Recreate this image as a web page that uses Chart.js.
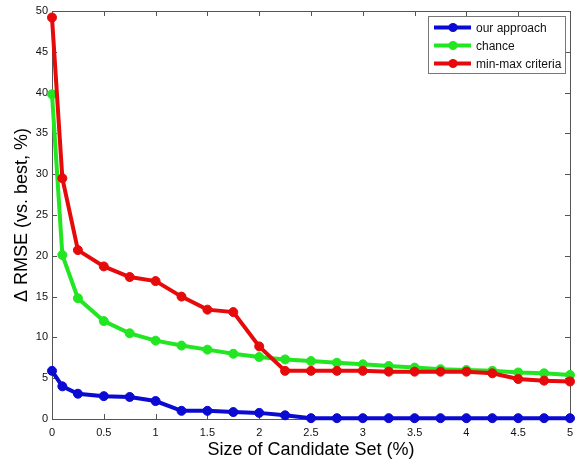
<!DOCTYPE html>
<html>
<head>
<meta charset="utf-8">
<script src="https://cdn.jsdelivr.net/npm/chart.js@4"></script>
<style>
  html, body { margin: 0; padding: 0; background: #fff; }
  #wrap { width: 586px; height: 463px; }
</style>
</head>
<body>
<div id="wrap"><canvas id="chart"></canvas></div>
<script>
// candidate set sizes (%)
const candidateSizes = [0, 0.1, 0.25, 0.5, 0.75, 1, 1.25, 1.5, 1.75, 2, 2.25, 2.5, 2.75, 3, 3.25, 3.5, 3.75, 4, 4.25, 4.5, 4.75, 5];

const seriesNames = ['our approach', 'chance', 'min-max criteria'];
const ourApproach = [5.9, 4.0, 3.1, 2.8, 2.7, 2.2, 1.0, 1.0, 0.85, 0.75, 0.45, 0.1, 0.1, 0.1, 0.1, 0.1, 0.1, 0.1, 0.1, 0.1, 0.1, 0.1];
const chance = [39.8, 20.1, 14.8, 12.0, 10.5, 9.6, 9.0, 8.5, 8.0, 7.6, 7.3, 7.1, 6.9, 6.7, 6.5, 6.3, 6.1, 6.0, 5.9, 5.7, 5.6, 5.4];
const minMax = [49.2, 29.5, 20.7, 18.7, 17.4, 16.9, 15.0, 13.4, 13.1, 8.9, 5.9, 5.9, 5.9, 5.9, 5.8, 5.8, 5.8, 5.8, 5.6, 4.9, 4.7, 4.6];

const colors = ['#0a0ad2', '#22e622', '#e60a0a'];
const fontFamily = '"Liberation Sans", Arial, Helvetica, sans-serif';

const toPoints = (vals) => vals.map((v, i) => ({ x: candidateSizes[i], y: v }));

// box around the axes with inward ticks on all four sides
const framePlugin = {
  id: 'frame',
  beforeDatasetsDraw(chart) {
    const { ctx, chartArea: a, scales } = chart;
    ctx.save();
    ctx.strokeStyle = '#555';
    ctx.lineWidth = 1;
    ctx.strokeRect(a.left + 0.5, a.top + 0.5, a.right - a.left, a.bottom - a.top);
    ctx.beginPath();
    scales.x.ticks.forEach((t) => {
      const px = Math.round(scales.x.getPixelForValue(t.value)) + 0.5;
      ctx.moveTo(px, a.bottom); ctx.lineTo(px, a.bottom - 5);
      ctx.moveTo(px, a.top); ctx.lineTo(px, a.top + 5);
    });
    scales.y.ticks.forEach((t) => {
      const py = Math.round(scales.y.getPixelForValue(t.value)) + 0.5;
      ctx.moveTo(a.left, py); ctx.lineTo(a.left + 5, py);
      ctx.moveTo(a.right, py); ctx.lineTo(a.right - 5, py);
    });
    ctx.stroke();
    ctx.restore();
  },
  afterDraw(chart) {
    // legend box, top right inside the axes
    const { ctx } = chart;
    const bx = 428.5, by = 16.5, bw = 137, bh = 57;
    ctx.save();
    ctx.fillStyle = '#fff';
    ctx.fillRect(bx, by, bw, bh);
    ctx.strokeStyle = '#777';
    ctx.lineWidth = 1;
    ctx.strokeRect(bx, by, bw, bh);
    chart.data.datasets.forEach((ds, i) => {
      const y = 27.5 + i * 18;
      ctx.strokeStyle = ds.borderColor;
      ctx.lineWidth = 4;
      ctx.beginPath();
      ctx.moveTo(434, y); ctx.lineTo(471, y);
      ctx.stroke();
      ctx.fillStyle = ds.borderColor;
      ctx.beginPath();
      ctx.arc(453, y, 4.5, 0, Math.PI * 2);
      ctx.fill();
      ctx.fillStyle = '#111';
      ctx.font = '12px ' + fontFamily;
      ctx.textBaseline = 'middle';
      ctx.fillText(ds.label, 476, y + 1);
    });
    ctx.restore();
  }
};

const seriesData = [ourApproach, chance, minMax];

new Chart(document.getElementById('chart'), {
  type: 'line',
  data: {
    datasets: seriesData.map((vals, i) => ({
      label: seriesNames[i],
      data: toPoints(vals),
      borderColor: colors[i],
      backgroundColor: colors[i],
      borderWidth: 4,
      pointRadius: 4.5,
      pointBorderWidth: 1,
      pointBackgroundColor: colors[i],
      pointBorderColor: colors[i],
      tension: 0,
      clip: false,
      order: i === 0 ? 2 : (i === 1 ? 1 : 0)
    }))
  },
  options: {
    responsive: true,
    maintainAspectRatio: false,
    animation: false,
    layout: { padding: { left: 0, right: 16, top: 11, bottom: 0 } },
    plugins: {
      legend: { display: false },
      tooltip: { enabled: false }
    },
    scales: {
      x: {
        type: 'linear',
        min: 0,
        max: 5,
        ticks: {
          stepSize: 0.5,
          color: '#111',
          padding: 7,
          font: { family: fontFamily, size: 11 },
          maxRotation: 0,
          callback: (v) => String(Number(v.toFixed(2)))
        },
        grid: { display: false, drawTicks: false },
        border: { display: false },
        title: {
          display: true,
          text: 'Size of Candidate Set (%)',
          color: '#000',
          font: { family: fontFamily, size: 18 },
          padding: { top: 0, bottom: 2 }
        },
        afterFit(scale) { scale.height = 44; }
      },
      y: {
        min: 0,
        max: 50,
        ticks: { stepSize: 5, color: '#111', padding: 4, font: { family: fontFamily, size: 11 } },
        grid: { display: false, drawTicks: false },
        border: { display: false },
        title: {
          display: true,
          text: 'Δ RMSE (vs. best, %)',
          color: '#000',
          font: { family: fontFamily, size: 18 },
          padding: { top: 11, bottom: 0 }
        },
        afterFit(scale) { scale.width = 52; }
      }
    }
  },
  plugins: [framePlugin]
});
</script>
</body>
</html>
